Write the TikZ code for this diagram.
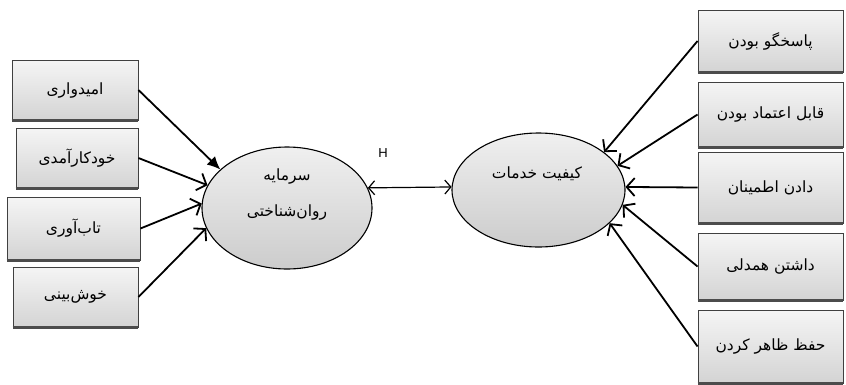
\documentclass[tikz,border=0pt]{standalone}
\usepackage{fontspec}
\setmainfont{Liberation Sans}
\newfontfamily\farsi[Script=Arabic]{DejaVu Sans}
\TeXXeTstate=1
\usetikzlibrary{arrows.meta,shapes.geometric}
\newcommand{\fa}[1]{{\farsi\beginR #1\endR}}

\begin{document}
\begin{tikzpicture}[x=1pt,y=-1pt,
  factor/.style={rectangle, draw=black!75, line width=0.9pt,
    top color=black!4, bottom color=black!17, inner sep=0pt,
    font=\fontsize{15.5}{17}\selectfont},
  latent/.style={ellipse, draw=black, line width=1.1pt,
    top color=black!6, bottom color=black!20, inner sep=0pt},
  label/.style={inner sep=0pt, font=\fontsize{15.5}{17}\selectfont},
  link/.style={line width=1.8pt, -{Straight Barb[length=8pt,width=18pt]}},
  strong/.style={line width=1.8pt, -{Latex[length=13pt,width=12pt]}},
  both/.style={line width=1.2pt, {Straight Barb[length=6pt,width=14pt]}-{Straight Barb[length=6pt,width=14pt]}},
  edge/.style={line width=2.4pt, draw=black!70}
]
\useasboundingbox (0,0) rectangle (846,384);

% left-hand indicators
\node[factor, minimum width=126pt, minimum height=60pt] (L1) at (75,90)   {\fa{امیدواری}};
\node[factor, minimum width=122pt, minimum height=60pt] (L2) at (77,158)  {\fa{خودکارآمدی}};
\node[factor, minimum width=133pt, minimum height=63pt] (L3) at (73.5,228.5) {\fa{تاب‌آوری}};
\node[factor, minimum width=125pt, minimum height=60pt] (L4) at (75.5,297) {\fa{خوش‌بینی}};

% right-hand indicators
\node[factor, minimum width=145pt, minimum height=62pt] (R1) at (770.5,41)    {\fa{پاسخگو بودن}};
\node[factor, minimum width=145pt, minimum height=65pt] (R2) at (770.5,114.5) {\fa{قابل اعتماد بودن}};
\node[factor, minimum width=145pt, minimum height=71pt] (R3) at (770.5,187.5) {\fa{دادن اطمینان}};
\node[factor, minimum width=145pt, minimum height=67pt] (R4) at (770.5,266.5) {\fa{داشتن همدلی}};
\node[factor, minimum width=145pt, minimum height=73pt] (R5) at (770.5,346.5) {\fa{حفظ ظاهر کردن}};

% heavy lower edge of every box
\foreach \b in {L1,L2,L3,L4,R1,R2,R3,R4,R5}
  \draw[edge] (\b.south west) -- (\b.south east);

% latent constructs
\node[latent, minimum width=170pt, minimum height=122pt] (E1) at (287,208) {};
\node[label] (E1a) at (287,176) {\fa{سرمایه}};
\node[label] (E1b) at (287,212) {\fa{روان‌شناختی}};

\node[latent, minimum width=173pt, minimum height=114pt] (E2) at (538.5,190) {};
\node[label] (E2a) at (537,174) {\fa{کیفیت خدمات}};

% relation between the constructs
\draw[both] (E1.14) -- (E2.178);
\node[inner sep=0pt, font=\fontsize{13}{15}\selectfont] (H) at (383,153) {H};

% indicator paths
\draw[strong] (L1.east) -- (E1.150);
\draw[link]   (L2.east) -- (E1.164);
\draw[link]   (L3.east) -- (E1.177);
\draw[link]   (L4.east) -- (E1.194);

\draw[link] (R1.west) -- (E2.30);
\draw[link] (R2.west) -- (E2.17);
\draw[link] (R3.west) -- (E2.2);
\draw[link] (R4.west) -- (E2.-10);
\draw[link] (R5.west) -- (E2.-25);
\end{tikzpicture}
\end{document}
